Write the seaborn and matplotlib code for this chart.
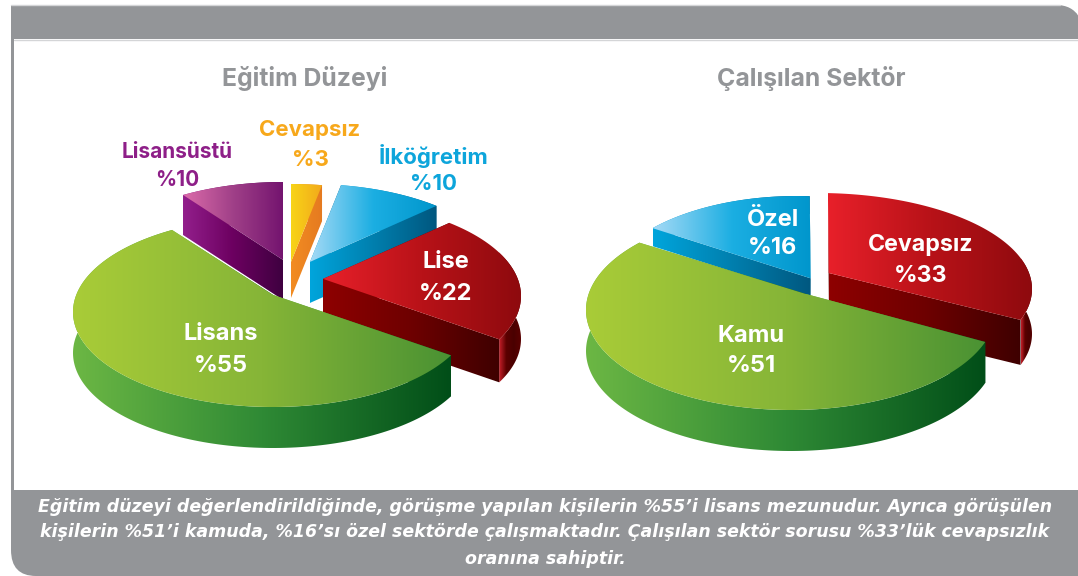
import numpy as np
import matplotlib
matplotlib.use("Agg")
import matplotlib.pyplot as plt
from matplotlib.patches import Polygon, PathPatch
from matplotlib.path import Path
import seaborn as sns

edu_labels = ["Cevapsız", "İlköğretim", "Lise", "Lisans", "Lisansüstü"]
edu_values = [3, 10, 22, 55, 10]
sector_labels = ["Cevapsız", "Kamu", "Özel"]
sector_values = [33, 51, 16]
titles = ["Eğitim Düzeyi", "Çalışılan Sektör"]
note_lines = [
    "Eğitim düzeyi değerlendirildiğinde, görüşme yapılan kişilerin %55’i lisans mezunudur. Ayrıca görüşülen",
    "kişilerin %51’i kamuda, %16’sı özel sektörde çalışmaktadır. Çalışılan sektör sorusu %33’lük cevapsızlık",
    "oranına sahiptir.",
]

GREY = "#939598"
GREEN = (["#A9CC38", "#86B537", "#4A9233"], ["#6CB744", "#2F8A35", "#014E18"], None)
RED = (["#E8202A", "#B81218", "#8E0A0E"], ["#8E0000", "#6E0000", "#3E0000"],
       ["#C8202A", "#5A0000", "#4A0000", "#5A0000"])
BLUE = (["#A5DAF6", "#1BAEE2", "#0096CC"], ["#00A5DC", "#007FAE", "#00577F"], None)
PURPLE = (["#DC6CAA", "#A04088", "#74146F"], ["#931F8C", "#6C0060", "#3F0040"], None)
ORANGE = (["#F8D417", "#F2A81C"], ["#F28C22", "#E57A20"], None)

# per-wedge drawing geometry: centre, radii, perspective offset, thickness, colours
edu_style = {
    "Lisansüstü": dict(c=(283, 277), r=(198, 95), a=(0, .18), d=40, col=PURPLE),
    "Cevapsız": dict(c=(291, 279), r=(198, 95), a=(0, .18), d=36, col=ORANGE),
    "İlköğretim": dict(c=(310, 279), r=(198, 95), a=(0, .18), d=41, col=BLUE),
    "Lise": dict(c=(323, 296), r=(198, 95), a=(0, .18), d=43, col=RED),
    "Lisans": dict(c=(273, 312), r=(200, 95), a=(0, .18), d=41, col=GREEN),
}
sector_style = {
    "Özel": dict(c=(797, 294), r=(195, 98), a=(.07, .16), d=18, col=BLUE),
    "Cevapsız": dict(c=(818, 289), r=(214, 96), a=(.05, .167), d=45, col=RED),
    "Kamu": dict(c=(791, 310), r=(205, 100), a=(.073, .16), d=41, col=GREEN),
}

sns.set_theme(style="white")
plt.rcParams["font.family"] = ["Inter", "DejaVu Sans"]
fig = plt.figure(figsize=(10.78, 5.76), dpi=100)
ax = fig.add_axes([0, 0, 1, 1])
ax.set_xlim(0, 1078)
ax.set_ylim(576, 0)
ax.axis("off")


def project(theta, a):
    p = np.stack([np.cos(theta), np.sin(theta)], axis=1)
    a = np.asarray(a, float)
    n = a @ a
    s = np.sqrt(1 - n)
    dot = p @ a
    par = np.outer(dot / n, a)
    q = a + par + s * (p - par)
    return q / (1 + dot)[:, None]


def fill(pts, colors, z, span=None):
    pts = np.asarray(pts)
    x0, x1 = span if span else (pts[:, 0].min(), pts[:, 0].max())
    y0, y1 = pts[:, 1].min(), pts[:, 1].max()
    cmap = sns.blend_palette(colors, as_cmap=True)
    im = ax.imshow(np.linspace(0, 1, 256)[None, :], cmap=cmap, aspect="auto",
                   extent=(x0, x1, y1 + 1, y0 - 1), interpolation="bilinear", zorder=z)
    clip = Polygon(pts, closed=True, fc="none", ec="none", zorder=z)
    ax.add_patch(clip)
    im.set_clip_path(clip)


def draw_pie(labels, values, style, order, base):
    values = np.asarray(values, float)
    cum = np.concatenate([[0], np.cumsum(values) / values.sum()])
    z = base
    for name in order:
        i = labels.index(name)
        st = style[name]
        t = np.radians(np.linspace(90 - 360 * cum[i], 90 - 360 * cum[i + 1], 160))
        q = project(t, st["a"])
        (cx, cy), (rx, ry) = st["c"], st["r"]
        arc = np.column_stack([cx + rx * q[:, 0], cy - ry * q[:, 1]])
        tip = np.array([cx + rx * st["a"][0], cy - ry * st["a"][1]])
        down = np.array([0, st["d"]])
        top_c, side_c, arc_c = st["col"]
        arc_c = arc_c or side_c
        # back cut, arc wall, front cut, then the top
        fill([tip, arc[0], arc[0] + down, tip + down], side_c, z)
        z += 1
        low = arc[:, 1] > cy
        wall = np.vstack([arc, (arc + down)[::-1]])
        span = (arc[low, 0].min(), arc[low, 0].max()) if low.sum() > 1 else None
        fill(wall, arc_c, z, span=span)
        z += 1
        fill([tip, arc[-1], arc[-1] + down, tip + down], side_c, z)
        z += 1
        fill(np.vstack([tip, arc]), top_c, z)
        z += 1
    return z


draw_pie(edu_labels, edu_values, edu_style,
         ["Lisansüstü", "Cevapsız", "İlköğretim", "Lise", "Lisans"], 2)
draw_pie(sector_labels, sector_values, sector_style, ["Özel", "Cevapsız", "Kamu"], 40)

# frame
ax.add_patch(PathPatch(Path(
    [(11, 39), (11, 5), (1056, 5), (1078, 5), (1084, 22), (1084, 39), (11, 39)],
    [1, 2, 2, 4, 4, 4, 2]), fc=GREY, ec="none", zorder=1))
ax.plot([11, 1060], [4.5, 4.5], color="#D4D5D7", lw=1, zorder=1)
ax.plot([14, 1078], [39.7, 39.7], color="#D4D5D7", lw=1, zorder=1)
ax.add_patch(plt.Rectangle((11, 39), 3, 452, fc=GREY, ec="none", zorder=1))
ax.add_patch(PathPatch(Path(
    [(11, 490), (1078, 490), (1078, 576), (36, 576), (11, 576), (11, 550), (11, 490)],
    [1, 2, 2, 2, 3, 3, 2]), fc=GREY, ec="none", zorder=1))

txt = dict(ha="center", va="center", fontweight="bold", zorder=90)
ax.text(305, 78.5, titles[0], color=GREY, fontsize=17.8, **txt)
ax.text(811, 78.5, titles[1], color=GREY, fontsize=17.8, **txt)


def label(x, y1, y2, name, value, color, size):
    ax.text(x, y1 + 1.5, name, color=color, fontsize=size, **txt)
    ax.text(x, y2 + 1.5, f"%{value}", color=color, fontsize=size, **txt)


edu = dict(zip(edu_labels, edu_values))
sec = dict(zip(sector_labels, sector_values))
label(177, 150, 178, "Lisansüstü", edu["Lisansüstü"], "#8E1F88", 15)
label(310, 129, 158, "Cevapsız", edu["Cevapsız"], "#F7A81B", 16)
label(433, 155, 183, "İlköğretim", edu["İlköğretim"], "#0DA5DB", 16)
label(446, 260, 293, "Lise", edu["Lise"], "white", 17)
label(221, 332, 365, "Lisans", edu["Lisans"], "white", 17)
label(773, 218, 247, "Özel", sec["Özel"], "white", 17)
label(921, 244, 274, "Cevapsız", sec["Cevapsız"], "white", 16.7)
label(751, 335, 365, "Kamu", sec["Kamu"], "white", 17)

for line, y in zip(note_lines, [507, 532, 559]):
    ax.text(545, y, line, color="white", fontsize=12.5, style="italic", ha="center",
            va="center", fontweight="bold", family=["DejaVu Sans"], zorder=90)

fig.savefig("out.png", dpi=100, facecolor="white")
